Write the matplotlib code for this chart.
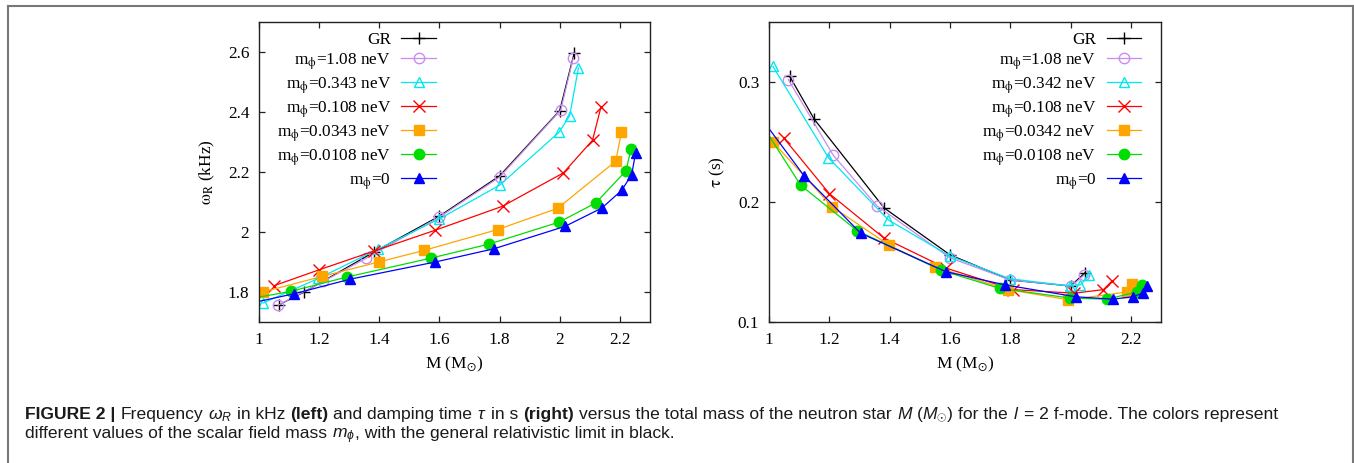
import matplotlib
matplotlib.use("Agg")
import matplotlib.pyplot as plt
from matplotlib.ticker import FormatStrFormatter, MultipleLocator
from matplotlib.lines import Line2D

plt.rcParams['font.family'] = ['Liberation Serif', 'DejaVu Serif']
plt.rcParams['mathtext.fontset'] = 'stix'
plt.rcParams['mathtext.rm'] = 'Liberation Sans'
plt.rcParams['mathtext.it'] = 'Liberation Sans:italic'
plt.rcParams['mathtext.bf'] = 'Liberation Sans:bold'

# ---- data: f-mode frequency and damping time vs. stellar mass ----
labels_omega = ['GR',
                r'm$_{\mathrm{\phi}}$=1.08 neV',
                r'm$_{\mathrm{\phi}}$=0.343 neV',
                r'm$_{\mathrm{\phi}}$=0.108 neV',
                r'm$_{\mathrm{\phi}}$=0.0343 neV',
                r'm$_{\mathrm{\phi}}$=0.0108 neV',
                r'm$_{\mathrm{\phi}}$=0']
labels_tau = ['GR',
              r'm$_{\mathrm{\phi}}$=1.08 neV',
              r'm$_{\mathrm{\phi}}$=0.342 neV',
              r'm$_{\mathrm{\phi}}$=0.108 neV',
              r'm$_{\mathrm{\phi}}$=0.0342 neV',
              r'm$_{\mathrm{\phi}}$=0.0108 neV',
              r'm$_{\mathrm{\phi}}$=0']

mass_gr = [1.068, 1.15, 1.382, 1.6, 1.8, 2.0, 2.048]
omega_gr = [1.758, 1.800, 1.933, 2.053, 2.187, 2.405, 2.597]
tau_gr = [0.305, 0.269, 0.195, 0.156, 0.135, 0.130, 0.141]

mass_108 = [1.064, 1.213, 1.357, 1.6, 1.8, 2.003, 2.045]
omega_108 = [1.756, 1.835, 1.913, 2.050, 2.183, 2.406, 2.580]
tau_108 = [0.302, 0.239, 0.197, 0.1535, 0.135, 0.130, 0.139]

mass_0343 = [1.013, 1.197, 1.396, 1.6, 1.8, 1.998, 2.033, 2.062]
omega_0343 = [1.763, 1.845, 1.943, 2.044, 2.156, 2.333, 2.388, 2.547]
tau_0343 = [0.313, 0.237, 0.185, 0.155, 0.136, 0.130, 0.131, 0.139]

mass_0108 = [1.05, 1.2, 1.381, 1.586, 1.81, 2.012, 2.109, 2.137]
omega_0108 = [1.821, 1.874, 1.936, 2.006, 2.086, 2.197, 2.306, 2.417]
tau_0108 = [0.253, 0.207, 0.170, 0.145, 0.127, 0.124, 0.127, 0.134]

mass_00343 = [1.013, 1.21, 1.398, 1.55, 1.793, 1.993, 2.186, 2.205]
omega_00343 = [1.800, 1.852, 1.900, 1.939, 2.008, 2.079, 2.236, 2.332]
tau_00343 = [0.250, 0.196, 0.164, 0.146, 0.127, 0.1185, 0.125, 0.132]

mass_00108 = [0.95, 1.105, 1.293, 1.572, 1.766, 1.998, 2.12, 2.220, 2.237]
omega_00108 = [1.774, 1.802, 1.850, 1.913, 1.960, 2.033, 2.097, 2.204, 2.277]
tau_00108 = [0.275, 0.214, 0.176, 0.143, 0.128, 0.120, 0.119, 0.125, 0.131]

mass_0 = [0.95, 1.116, 1.304, 1.586, 1.781, 2.018, 2.14, 2.206, 2.239, 2.252]
omega_0 = [1.758, 1.794, 1.843, 1.900, 1.944, 2.019, 2.080, 2.139, 2.191, 2.263]
tau_0 = [0.278, 0.222, 0.174, 0.142, 0.131, 0.121, 0.119, 0.121, 0.124, 0.130]

masses = [mass_gr, mass_108, mass_0343, mass_0108, mass_00343, mass_00108, mass_0]
omegas = [omega_gr, omega_108, omega_0343, omega_0108, omega_00343, omega_00108, omega_0]
taus = [tau_gr, tau_108, tau_0343, tau_0108, tau_00343, tau_00108, tau_0]

# ---- styles ----
colors = ['#000000', '#c88cf0', '#00e8f0', '#ff0000', '#ffa500', '#00dd00', '#0000ff']
markers = ['+', 'o', '^', 'x', 's', 'o', '^']
filled = [True, False, False, True, True, True, True]
msizes = [9, 7.5, 7.5, 8, 7, 7.5, 7]

W, H = 1354, 463
fig = plt.figure(figsize=(W / 100, H / 100), dpi=100)

axL = fig.add_axes([259 / W, 1 - 322 / H, 391 / W, 300 / H])
axR = fig.add_axes([769 / W, 1 - 322 / H, 392 / W, 300 / H])

TICK_FS = 12.4


def draw(ax, ys, labels, legend_x):
    for k in range(len(masses)):
        mfc = colors[k] if filled[k] else 'none'
        ax.plot(masses[k], ys[k], color=colors[k], marker=markers[k],
                mfc=mfc, mec=colors[k], ms=msizes[k], mew=1.0, lw=0.9,
                label=labels[k])
    ax.set_xlim(1, 2.3)
    ax.xaxis.set_major_locator(MultipleLocator(0.2))
    ax.xaxis.set_major_formatter(FormatStrFormatter('%g'))
    ax.yaxis.set_major_formatter(FormatStrFormatter('%g'))
    ax.tick_params(direction='in', top=True, right=True, length=4,
                   width=0.9, labelsize=TICK_FS, pad=7, color='#222222')
    for s in ax.spines.values():
        s.set_linewidth(1.0)
        s.set_color('#222222')
    ax.set_xlabel(r'M (M$_{\odot}$)', fontsize=TICK_FS, labelpad=5)
    ax.legend(loc='upper right', bbox_to_anchor=(legend_x, 0.968),
              markerfirst=False, frameon=False, fontsize=TICK_FS,
              handlelength=2.0, handletextpad=0.6, labelspacing=0.2,
              borderpad=0, borderaxespad=0)


draw(axL, omegas, labels_omega, 0.452)
axL.set_ylim(1.7, 2.7)
axL.yaxis.set_major_locator(MultipleLocator(0.2))
axL.set_ylabel(r'$\mathrm{\omega_R}$ (kHz)', fontsize=TICK_FS, labelpad=8)

draw(axR, taus, labels_tau, 0.949)
axR.set_ylim(0.1, 0.35)
axR.yaxis.set_major_locator(MultipleLocator(0.1))
axR.set_ylabel(r'$\mathrm{\tau}$ (s)', fontsize=TICK_FS, labelpad=8)

# ---- outer frame ----
frame_kw = dict(transform=fig.transFigure, color='#777777', lw=1.5)
fig.add_artist(Line2D([8 / W, 1352.5 / W], [1 - 6 / H, 1 - 6 / H], **frame_kw))
fig.add_artist(Line2D([8 / W, 8 / W], [0, 1 - 6 / H], **frame_kw))
fig.add_artist(Line2D([1352.5 / W, 1352.5 / W], [0, 1 - 6 / H], **frame_kw))

# ---- caption ----
CAP_FS = 12.6
cap_reg = dict(family='Liberation Sans', fontsize=CAP_FS, color='#1a1a1a')
cap_bold = dict(cap_reg, weight='bold')
cap_math = dict(cap_reg, math_fontfamily='custom')

renderer = fig.canvas.get_renderer()


def width_of(s, style):
    t = fig.text(0, 0, s, **style)
    w = t.get_window_extent(renderer).width
    t.remove()
    return w


space_w = width_of('a a', cap_reg) - width_of('aa', cap_reg)


def caption_line(x_px, y_px, runs):
    x = x_px
    for s, style, gap in runs:
        t = fig.text(x / W, 1 - y_px / H, s, va='baseline', **style)
        x += t.get_window_extent(renderer).width
        if gap:
            x += space_w


caption_line(25, 419, [
    ('FIGURE 2 |', cap_bold, True),
    ('Frequency', cap_reg, True),
    (r'$\omega_R$', cap_math, True),
    ('in kHz', cap_reg, True),
    ('(left)', cap_bold, True),
    ('and damping time', cap_reg, True),
    (r'$\tau$', cap_math, True),
    ('in s', cap_reg, True),
    ('(right)', cap_bold, True),
    ('versus the total mass of the neutron star', cap_reg, True),
    (r'$M\ (M_{\odot})$', cap_math, True),
    ('for the', cap_reg, True),
    (r'$l$', cap_math, True),
    ('= 2 f-mode. The colors represent', cap_reg, False),
])
caption_line(25, 438, [
    ('different values of the scalar field mass', cap_reg, True),
    (r'$m_{\phi}$', cap_math, False),
    (', with the general relativistic limit in black.', cap_reg, False),
])

fig.savefig('out.png', dpi=100)
